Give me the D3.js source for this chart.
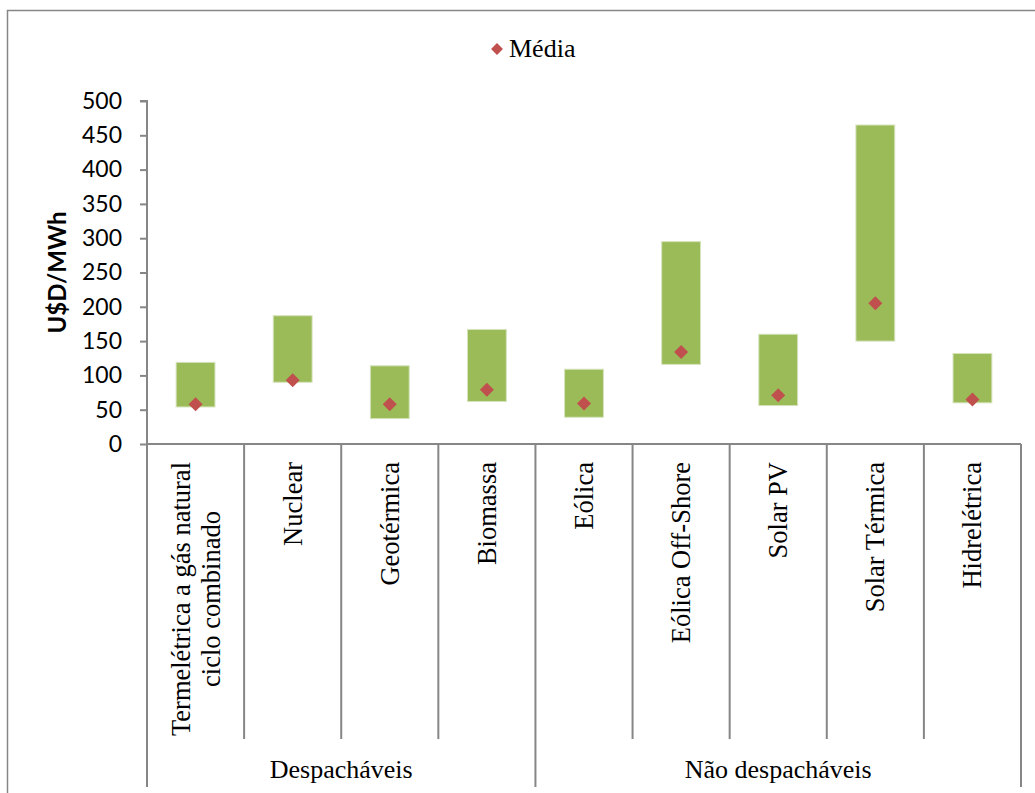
<!DOCTYPE html>
<html>
<head>
<meta charset="utf-8">
<script src="https://cdn.jsdelivr.net/npm/d3@7"></script>
<style>
  body { margin: 0; background: #fff; }
  svg { display: block; }
</style>
</head>
<body>
<svg id="chart" width="1035" height="793"></svg>
<script>
// chart values
var categories = [
  ["Termelétrica a gás natural", "ciclo combinado"],
  ["Nuclear"],
  ["Geotérmica"],
  ["Biomassa"],
  ["Eólica"],
  ["Eólica Off-Shore"],
  ["Solar PV"],
  ["Solar Térmica"],
  ["Hidrelétrica"]
];
var groups = ["Despacháveis", "Não despacháveis"];
var groupSizes = [4, 5];
var minValues = [54, 90, 37, 62, 39, 116, 56, 150, 60];
var maxValues = [119, 187, 114, 167, 109, 295, 160, 465, 132];
var meanValues = [58, 93, 58, 79, 59, 134, 71, 205, 65];
var yTicks = [0, 50, 100, 150, 200, 250, 300, 350, 400, 450, 500];

(function () {
  "use strict";

  var svg = d3.select("#chart"),
    axisColor = "#868686",
    green = "#9BBB59",
    red = "#C0504D",
    left = 147,
    right = 1021,
    top = 101,
    bottom = 444,
    serif = "'Liberation Serif', 'Times New Roman', serif",
    sans = "Lato, 'Open Sans', sans-serif",
    idx = d3.range(categories.length);

  var x = d3.scaleBand().domain(idx).range([left, right]),
    y = d3.scaleLinear().domain([0, 500]).range([bottom, top]);

  // outer frame (clipped on right/bottom like the original)
  svg.append("rect")
    .attr("x", 7.5).attr("y", 10.5)
    .attr("width", 1100).attr("height", 900)
    .attr("fill", "none")
    .attr("stroke", axisColor)
    .attr("stroke-width", 1.5);

  // legend
  var legend = svg.append("g").attr("transform", "translate(497,49)");
  legend.append("path")
    .attr("d", d3.symbol(d3.symbolDiamond2, 90)())
    .attr("fill", red);
  legend.append("text")
    .attr("x", 12).attr("y", 8)
    .attr("font-family", serif)
    .attr("font-size", 26)
    .attr("fill", "#000")
    .text("Média");

  // floating range bars
  var barW = x.bandwidth() * 0.4;
  svg.append("g").selectAll("rect")
    .data(idx)
    .join("rect")
    .attr("x", function (i) { return x(i) + (x.bandwidth() - barW) / 2; })
    .attr("y", function (i) { return y(maxValues[i]); })
    .attr("width", barW)
    .attr("height", function (i) { return y(minValues[i]) - y(maxValues[i]); })
    .attr("fill", green)
    .attr("stroke", "#d6e3bc")
    .attr("stroke-width", 1);

  // mean markers
  svg.append("g").selectAll("path")
    .data(idx)
    .join("path")
    .attr("transform", function (i) {
      return "translate(" + (x(i) + x.bandwidth() / 2) + "," + y(meanValues[i]) + ")";
    })
    .attr("d", d3.symbol(d3.symbolDiamond2, 125)())
    .attr("fill", red);

  // y axis
  var yAxis = svg.append("g")
    .attr("transform", "translate(" + left + ",0)")
    .call(d3.axisLeft(y).tickValues(yTicks).tickSize(7).tickPadding(18));
  yAxis.select(".domain").attr("stroke", axisColor).attr("stroke-width", 2)
    .attr("d", "M-7," + top + "H0V" + 787);
  yAxis.selectAll(".tick line").attr("stroke", axisColor).attr("stroke-width", 2);
  yAxis.selectAll(".tick text")
    .attr("font-family", sans)
    .attr("font-size", 23)
    .attr("fill", "#000");

  // y title
  svg.append("text")
    .attr("transform", "translate(66," + ((top + bottom) / 2) + ") rotate(-90)")
    .attr("text-anchor", "middle")
    .attr("font-family", sans)
    .attr("font-weight", "bold")
    .attr("font-size", 24)
    .attr("fill", "#000")
    .text("U$D/MWh");

  // x axis line
  svg.append("line")
    .attr("x1", left).attr("x2", right)
    .attr("y1", bottom).attr("y2", bottom)
    .attr("stroke", axisColor).attr("stroke-width", 2);

  // category separators
  var groupEdges = [0], acc = 0;
  groupSizes.forEach(function (n) { acc += n; groupEdges.push(acc); });
  d3.range(1, categories.length + 1).forEach(function (k) {
    var xx = k < categories.length ? x(k) : right,
      isGroup = groupEdges.indexOf(k) >= 0;
    svg.append("line")
      .attr("x1", xx).attr("x2", xx)
      .attr("y1", bottom).attr("y2", isGroup ? 787 : 739)
      .attr("stroke", axisColor).attr("stroke-width", 2);
  });

  // category labels (rotated, top aligned, lines centered on each other)
  var labelTop = 462, lineH = 30;
  idx.forEach(function (i) {
    var lines = categories[i],
      cx = x(i) + x.bandwidth() / 2,
      g = svg.append("g"),
      texts = g.selectAll("text").data(lines).join("text")
        .attr("font-family", serif)
        .attr("font-size", 26.5)
        .attr("fill", "#000")
        .attr("text-anchor", "middle")
        .text(function (d) { return d; }),
      maxLen = d3.max(texts.nodes(), function (n) { return n.getComputedTextLength(); }),
      off = (lines.length - 1) * lineH / 2;
    texts.attr("transform", function (d, j) {
      return "translate(" + (cx + 9 - off + j * lineH) + "," + (labelTop + maxLen / 2) + ") rotate(-90)";
    });
  });

  // group labels
  groups.forEach(function (name, gi) {
    var a = groupEdges[gi], b = groupEdges[gi + 1],
      x0 = x(a),
      x1 = b < categories.length ? x(b) : right;
    svg.append("text")
      .attr("x", (x0 + x1) / 2)
      .attr("y", 778)
      .attr("text-anchor", "middle")
      .attr("font-family", serif)
      .attr("font-size", 26)
      .attr("fill", "#000")
      .text(name);
  });
}());
</script>
</body>
</html>
